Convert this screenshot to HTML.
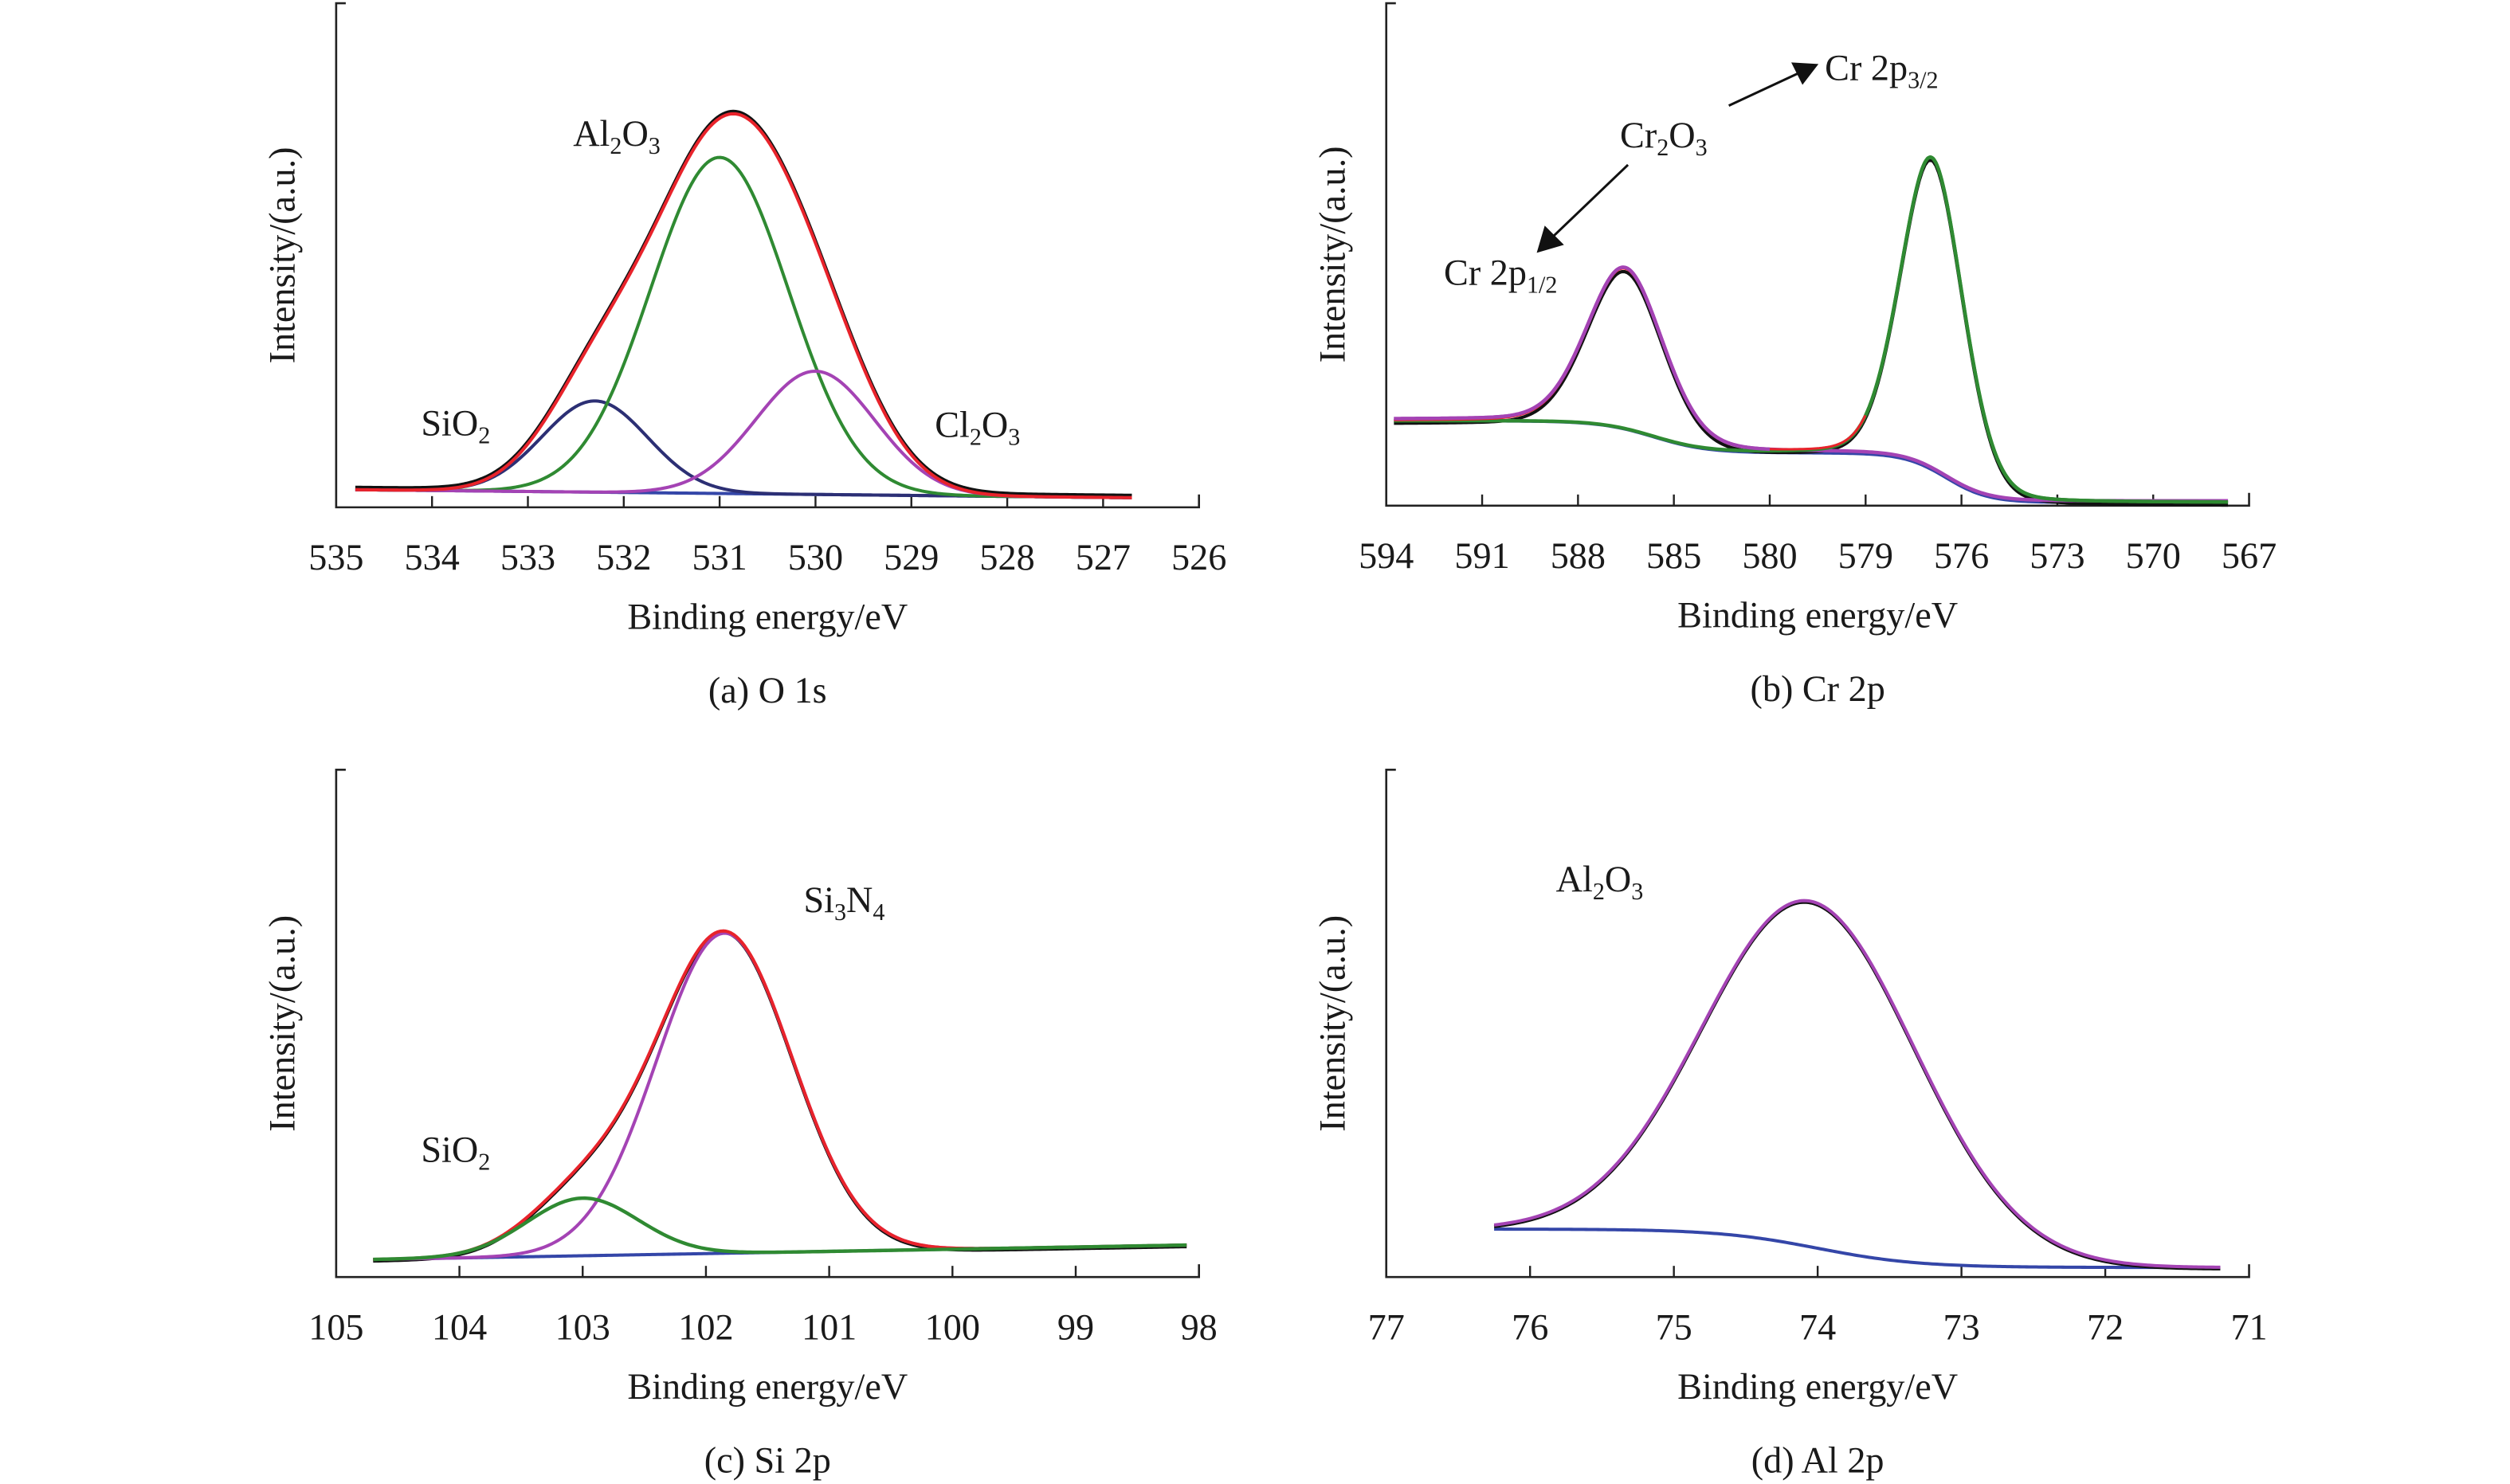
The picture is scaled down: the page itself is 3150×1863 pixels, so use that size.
<!DOCTYPE html>
<html><head><meta charset="utf-8"><style>
html,body{margin:0;padding:0;background:#fff}
svg{display:block}
text{font-family:"Liberation Serif",serif;fill:#1a1a1a}
</style></head><body>
<svg id="fig" width="3150" height="1863" viewBox="0 0 1568 927.3" preserveAspectRatio="none" xmlns="http://www.w3.org/2000/svg">
<g id="static">
 <text x="358" y="91" font-size="23">Al<tspan font-size="15" dy="5">2</tspan><tspan dy="-5">O</tspan><tspan font-size="15" dy="5">3</tspan></text>
 <text x="263" y="272" font-size="23">SiO<tspan font-size="15" dy="5">2</tspan></text>
 <text x="584" y="273" font-size="23">Cl<tspan font-size="15" dy="5">2</tspan><tspan dy="-5">O</tspan><tspan font-size="15" dy="5">3</tspan></text>
 <text x="1012" y="92" font-size="23">Cr<tspan font-size="15" dy="5">2</tspan><tspan dy="-5">O</tspan><tspan font-size="15" dy="5">3</tspan></text>
 <text x="1140" y="50" font-size="23">Cr 2p<tspan font-size="15" dy="5">3/2</tspan></text>
 <text x="902" y="178" font-size="23">Cr 2p<tspan font-size="15" dy="5">1/2</tspan></text>
 <line x1="1017" y1="103" x2="970" y2="148" stroke="#111" stroke-width="1.5"/>
 <polygon points="960,158 965,141 977,153" fill="#111"/>
 <line x1="1080" y1="66" x2="1123" y2="46" stroke="#111" stroke-width="1.5"/>
 <polygon points="1136,40 1119,39 1126,53" fill="#111"/>
 <text x="502" y="570" font-size="23">Si<tspan font-size="15" dy="5">3</tspan><tspan dy="-5">N</tspan><tspan font-size="15" dy="5">4</tspan></text>
 <text x="263" y="726" font-size="23">SiO<tspan font-size="15" dy="5">2</tspan></text>
 <text x="972" y="557" font-size="23">Al<tspan font-size="15" dy="5">2</tspan><tspan dy="-5">O</tspan><tspan font-size="15" dy="5">3</tspan></text>
</g>
</svg>
<script>
// ---- Panel (a) O 1s ----
const aTicks = ["535","534","533","532","531","530","529","528","527","526"];
const aCenters = [532.3, 531.0, 530.0];
const aHeights = [57, 210, 77];
const aSigmas = [0.55, 0.72, 0.62];
const aBaseline = [306, 311];
const aRange = [534.8, 526.7];
// ---- Panel (b) Cr 2p ----
const bTicks = ["594","591","588","585","580","579","576","573","570","567"];
const bCenters = [2.49, 5.69];
const bHeights = [100, 195];
const bSigmas = [0.40, 0.33];
const bBgLevels = [263, 283, 314];
const bRange = [0.08, 8.78];
// ---- Panel (c) Si 2p ----
const cTicks = ["105","104","103","102","101","100","99","98"];
const cCenters = [103.0, 101.85];
const cHeights = [36, 200];
const cSigmas = [0.45, 0.55];
const cBaseline = [787, 778];
const cRange = [104.7, 98.1];
// ---- Panel (d) Al 2p ----
const dTicks = ["77","76","75","74","73","72","71"];
const dCenters = [74.05];
const dHeights = [216];
const dSigmas = [0.74];
const dBgLevels = [768, 792];
const dRange = [76.25, 71.2];

const NS = "http://www.w3.org/2000/svg";
const svg = document.getElementById('fig');
function mk(tag, attrs, parent){const e=document.createElementNS(NS,tag);for(const k in attrs)e.setAttribute(k,attrs[k]);(parent||svg).appendChild(e);return e;}
function gauss(x,c,h,s){return h*Math.exp(-(x-c)*(x-c)/(2*s*s));}
function sig(x,c,w){return 1/(1+Math.exp((x-c)/w));}

function axes(P, ticks, caption, cap){
  const g = mk('g',{});
  
  
  const ya = mk('path',{d:`M${P.x0+6},${P.top} H${P.x0} V${P.y0} H${P.x1} V${P.y0-8}`,fill:'none',stroke:'#222','stroke-width':1.3},g);
  
  
  const n = ticks.length;
  for(let i=0;i<n;i++){
    const x = P.x0 + (P.x1-P.x0)*i/(n-1);
    if(i>0&&i<n-1){const t=mk('line',{x1:x,x2:x,y1:P.y0,y2:P.y0-7,stroke:'#222','stroke-width':1.2},g);
      
      }
    const tl = mk('text',{x:x,y:P.y0+39,'font-size':23,'text-anchor':'middle'},g);
    tl.textContent = ticks[i];
    
    
  }
  const cx=(P.x0+P.x1)/2;
  const xt = mk('text',{x:cx,y:P.y0+76,'font-size':23,'text-anchor':'middle'},g);
  xt.textContent='Binding energy/eV';
  
  
  const ct = mk('text',{x:cx,y:P.y0+122,'font-size':23,'text-anchor':'middle'},g);
  ct.textContent=caption;
  
  
  const yt = mk('text',{x:0,y:0,'font-size':23,'text-anchor':'middle',transform:`translate(${P.x0-26},${(P.top+P.y0)/2}) rotate(-90)`},g);
  yt.textContent='Intensity/(a.u.)';
  
  
}
function line(P, fn, range, color, w, name){
  let d='';const N=300;
  for(let i=0;i<=N;i++){const v=range[0]+(range[1]-range[0])*i/N;const x=P.x0+(P.lo-v)/(P.lo-P.hi)*(P.x1-P.x0);d+=(i?'L':'M')+x.toFixed(2)+','+fn(v).toFixed(2);}
  const p=mk('path',{d:d,fill:'none',stroke:color,'stroke-width':w,'stroke-linejoin':'round'});
  
  
}
const BLUE='#3446a8',MAG='#a443b4',GRN='#2f8a32',RED='#e8232b',NAVY='#2c2f74',BLK='#111';

// Panel a
{const P={x0:210,x1:749,y0:317,top:2,lo:535,hi:526};
 axes(P,aTicks,'(a) O 1s','panel-a');
 const bl=v=>aBaseline[0]+(aBaseline[1]-aBaseline[0])*(aRange[0]-v)/(aRange[0]-aRange[1]);
 const comp=k=>v=>bl(v)-gauss(v,aCenters[k],aHeights[k],aSigmas[k]);
 const sum=v=>{let s=0;for(let k=0;k<aCenters.length;k++)s+=gauss(v,aCenters[k],aHeights[k],aSigmas[k]);return bl(v)-s;};
 line(P,bl,aRange,BLUE,2,'a-background');
 line(P,comp(0),aRange,NAVY,2,'a-sio2-peak');
 line(P,comp(1),aRange,GRN,2,'a-al2o3-peak');
 line(P,comp(2),aRange,MAG,2,'a-cl2o3-peak');
 line(P,v=>sum(v)-1.5,aRange,BLK,2,'a-measured');
 line(P,sum,aRange,RED,2,'a-envelope');}
// Panel b
{const P={x0:866,x1:1405,y0:316,top:2,lo:0,hi:9};
 axes(P,bTicks,'(b) Cr 2p','panel-b');
 const bl=v=>bBgLevels[0]+(bBgLevels[1]-bBgLevels[0])*(1-sig(v,bCenters[0]+0.3,0.28))+(bBgLevels[2]-bBgLevels[1])*(1-sig(v,bCenters[1]+0.15,0.22));
 const bl2=v=>bl(v)-1;
 const p=k=>v=>gauss(v,bCenters[k],bHeights[k],bSigmas[k])*0.85+bHeights[k]*0.15/(1+Math.pow((v-bCenters[k])/bSigmas[k],2));
 const sum=v=>bl(v)-p(0)(v)-p(1)(v);
 line(P,bl,bRange,BLUE,2,'b-background');
 line(P,v=>sum(v)+2,bRange,BLK,2,'b-measured');
 line(P,v=>bl2(v)-p(0)(v),bRange,MAG,2.2,'b-cr2p12-peak');
 line(P,v=>bl(v)-p(1)(v),bRange,GRN,2.2,'b-cr2p32-peak');
 line(P,sum,bRange,RED,1.5,'b-envelope');
 line(P,v=>bl(v)-p(1)(v),[5.0,bRange[1]],GRN,2.2,'b-cr2p32-peak-top');
 line(P,v=>bl2(v)-p(0)(v),[bRange[0],4.0],MAG,2.2,'b-cr2p12-peak-top');}
// Panel c
{const P={x0:210,x1:749,y0:798,top:481,lo:105,hi:98};
 axes(P,cTicks,'(c) Si 2p','panel-c');
 const bl=v=>cBaseline[0]+(cBaseline[1]-cBaseline[0])*(cRange[0]-v)/(cRange[0]-cRange[1]);
 const comp=k=>v=>bl(v)-gauss(v,cCenters[k],cHeights[k],cSigmas[k]);
 const sum=v=>bl(v)-gauss(v,cCenters[0],cHeights[0],cSigmas[0])-gauss(v,cCenters[1],cHeights[1],cSigmas[1]);
 line(P,bl,cRange,BLUE,2,'c-background');
 line(P,v=>sum(v)+1,cRange,BLK,2,'c-measured');
 line(P,comp(1),cRange,MAG,2,'c-si3n4-peak');
 line(P,sum,cRange,RED,2,'c-envelope');
 line(P,comp(0),cRange,GRN,2.2,'c-sio2-peak');}
// Panel d
{const P={x0:866,x1:1405,y0:798,top:481,lo:77,hi:71};
 axes(P,dTicks,'(d) Al 2p','panel-d');
 const bl=v=>dBgLevels[0]+(dBgLevels[1]-dBgLevels[0])*sig(v,dCenters[0]-0.05,0.35);
 const sum=v=>bl(v)-gauss(v,dCenters[0],dHeights[0],dSigmas[0]);
 line(P,bl,dRange,BLUE,2,'d-background');
 line(P,v=>sum(v)+1,dRange,BLK,2,'d-measured');
 line(P,sum,dRange,MAG,2,'d-al2o3-peak');}
svg.appendChild(document.getElementById('static'));
</script>
</body></html>
